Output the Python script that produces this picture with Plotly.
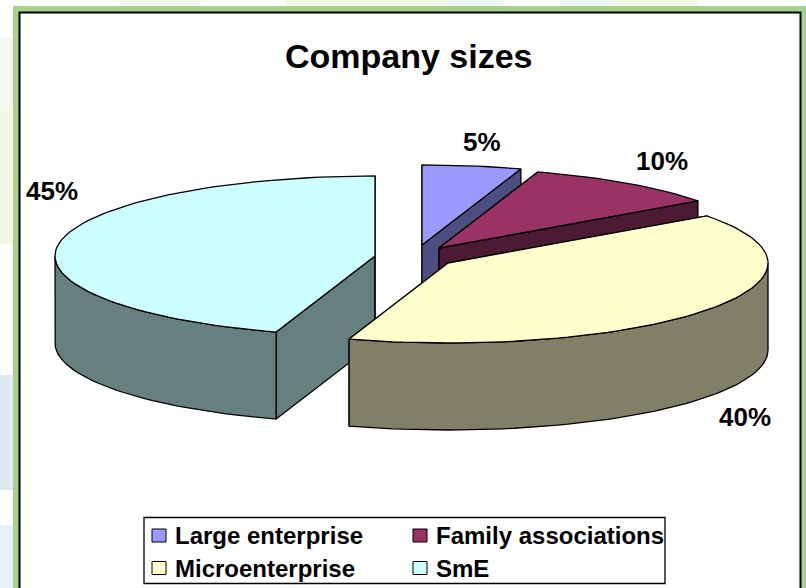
import math
import plotly.graph_objects as go

categories = ["Large enterprise", "Family associations", "Microenterprise", "SmE"]
values = [5, 10, 40, 45]
fill_colors = ["#9999FF", "#993366", "#FFFFCC", "#CCFFFF"]
side_colors = ["#4D4D80", "#4D1A33", "#808066", "#668080"]
centers = [(422, 245), (439, 248), (448, 263), (375, 256)]
label_xy = [(482, 142), (662, 161), (745, 417), (52, 191)]
legend_xy = [(159, 535.5), (420, 535.5), (159, 568), (420, 568)]
RX, RY, DEPTH = 320, 80, 87

def pt(c, deg, dy=0):
    t = math.radians(deg)
    return c[0] + RX * math.sin(t), c[1] - RY * math.cos(t) + dy

fig = go.Figure()

def poly(pts, color):
    xs = [p[0] for p in pts] + [pts[0][0]]
    ys = [p[1] for p in pts] + [pts[0][1]]
    fig.add_trace(go.Scatter(x=xs, y=ys, mode="lines", fill="toself", fillcolor=color,
                             line=dict(color="#000000", width=1.3), hoverinfo="skip", showlegend=False))

bounds = []
acc = 0
for v in values:
    bounds.append((acc * 3.6, (acc + v) * 3.6))
    acc += v

for i in [3, 0, 1, 2]:
    c = centers[i]
    a0, a1 = bounds[i]
    n = max(8, int((a1 - a0) / 2))
    arc = [a0 + (a1 - a0) * k / n for k in range(n + 1)]
    for a in (a0, a1):
        p = pt(c, a)
        q = pt(c, a, DEPTH)
        poly([c, p, q, (c[0], c[1] + DEPTH)], side_colors[i])
    wall = [a for a in arc if 90 <= a <= 270]
    if a0 < 90 < a1:
        wall = [90] + wall
    if a0 < 270 < a1:
        wall = wall + [270]
    if wall:
        top = [pt(c, a) for a in wall]
        bot = [pt(c, a, DEPTH) for a in reversed(wall)]
        poly(top + bot, side_colors[i])
    poly([c] + [pt(c, a) for a in arc], fill_colors[i])

def bg(x0, y0, x1, y1, col):
    return dict(type="rect", x0=x0, y0=y0, x1=x1, y1=y1, fillcolor=col, line_width=0, layer="below")

shapes = [
    # pale page backdrop that shows round the frame
    bg(0, 38, 13, 109, "#F6F7F2"),
    bg(0, 109, 13, 244, "#F5F8E2"),
    bg(0, 375, 13, 490, "#DFE9F3"),
    bg(0, 525, 13, 588, "#E8F0F8"),
    bg(120, 0, 200, 6, "#F1F4EC"),
    bg(285, 0, 447, 6, "#F5F8E2"),
    bg(447, 0, 504, 6, "#EEF6F8"),
    bg(560, 0, 614, 6, "#EEF6F8"),
    bg(614, 0, 697, 6, "#F5F8E2"),
    # green frame and white panel
    bg(13, 6, 806, 588, "#A9D18E"),
    dict(type="rect", x0=19.5, y0=12.5, x1=800.5, y1=600, fillcolor="#FFFFFF",
         line=dict(color="#000000", width=2), layer="below"),
    dict(type="rect", x0=144, y0=517.5, x1=665, y1=583.5, fillcolor="#FFFFFF",
         line=dict(color="#000000", width=1.3), layer="below"),
]
for (x, y), col in zip(legend_xy, fill_colors):
    shapes.append(dict(type="rect", x0=x - 7, y0=y - 6.5, x1=x + 7, y1=y + 6.5, fillcolor=col,
                       line=dict(color="#000000", width=1)))

annotations = [dict(x=409, y=56, text="<b>Company sizes</b>", showarrow=False,
                    font=dict(family="Liberation Sans", size=34, color="#000"))]
for (x, y), v in zip(label_xy, values):
    annotations.append(dict(x=x, y=y, text=f"<b>{v}%</b>", showarrow=False,
                            font=dict(family="Liberation Sans", size=26, color="#000")))
for (x, y), name in zip(legend_xy, categories):
    annotations.append(dict(x=x + 14, y=y, text=f"<b>{name}</b>", showarrow=False, xanchor="left",
                            font=dict(family="Liberation Sans", size=24, color="#000")))

fig.update_layout(
    width=806, height=588, margin=dict(l=0, r=0, t=0, b=0),
    paper_bgcolor="#FFFFFF", plot_bgcolor="rgba(0,0,0,0)", showlegend=False,
    xaxis=dict(range=[0, 806], visible=False, fixedrange=True),
    yaxis=dict(range=[588, 0], visible=False, fixedrange=True),
    shapes=shapes, annotations=annotations,
)
fig.write_html("out.html", config={"displayModeBar": False},
               post_script="document.body.style.margin='0';document.body.style.overflow='hidden';")
